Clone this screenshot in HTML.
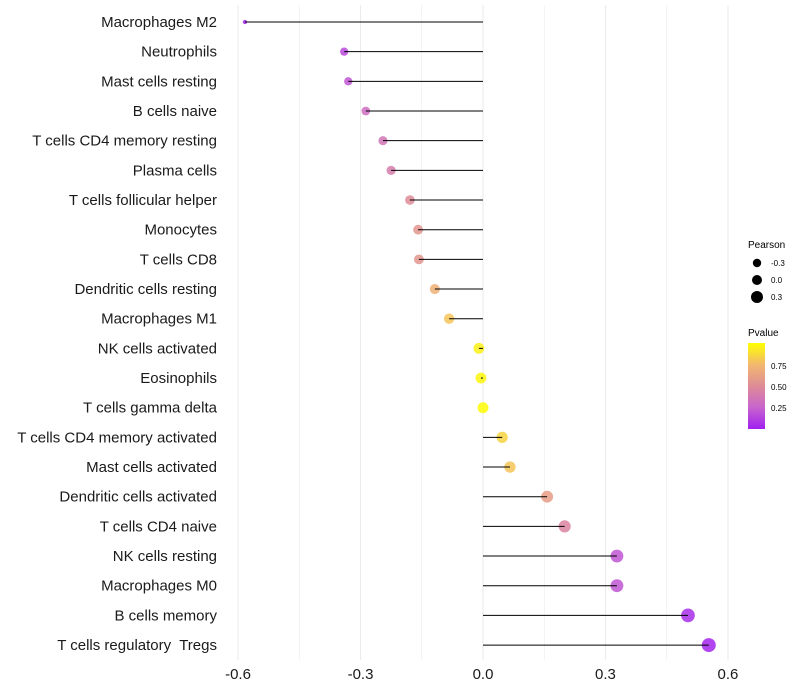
<!DOCTYPE html>
<html><head><meta charset="utf-8"><style>
body{margin:0;background:#fff;font-family:"Liberation Sans",sans-serif}
svg{display:block}
</style></head><body>
<svg id="chart" width="800" height="700"></svg>
<script>
const categories=["Macrophages M2","Neutrophils","Mast cells resting","B cells naive","T cells CD4 memory resting","Plasma cells","T cells follicular helper","Monocytes","T cells CD8","Dendritic cells resting","Macrophages M1","NK cells activated","Eosinophils","T cells gamma delta","T cells CD4 memory activated","Mast cells activated","Dendritic cells activated","T cells CD4 naive","NK cells resting","Macrophages M0","B cells memory","T cells regulatory  Tregs"];
const pearson=[-0.583,-0.34,-0.33,-0.287,-0.245,-0.225,-0.179,-0.159,-0.157,-0.118,-0.083,-0.01,-0.005,0.0,0.047,0.066,0.157,0.2,0.328,0.328,0.502,0.553];
const pvalues=[0.01,0.15,0.2,0.3,0.35,0.4,0.5,0.55,0.55,0.7,0.8,0.95,0.97,0.99,0.85,0.8,0.6,0.45,0.2,0.2,0.05,0.02];
const xTicks=[-0.6,-0.3,0.0,0.3,0.6];
const xTickLabels=["-0.6","-0.3","0.0","0.3","0.6"];
const NS="http://www.w3.org/2000/svg";
const svg=document.getElementById('chart');
const x=v=>483+v*408.3;
const y=i=>22+i*29.67;
const r=v=>1.5+5.5*Math.sqrt(Math.max(0,(v+0.6)/1.153));
const stops=[[0,[160,32,240]],[0.25,[200,100,205]],[0.5,[222,140,150]],[0.75,[242,184,110]],[1,[255,255,0]]];
function col(p){const t=Math.max(0,Math.min(1,p));let k=0;while(k<stops.length-2&&t>stops[k+1][0])k++;
const a=stops[k],b=stops[k+1],f=(t-a[0])/(b[0]-a[0]);
return `rgb(${a[1].map((c,j)=>Math.round(c+(b[1][j]-c)*f)).join(',')})`;}
function mk(t,a){const e=document.createElementNS(NS,t);for(const k in a)e.setAttribute(k,a[k]);svg.appendChild(e);return e;}
for(let v=-0.6;v<=0.601;v+=0.15){const g=mk('line',{x1:x(v),x2:x(v),y1:5,y2:660,stroke:'#ebebeb','stroke-width':Math.abs(Math.round(v/0.15))%2?0.6:1.1});

}
xTicks.forEach((v,i)=>{const t=mk('text',{x:x(v),y:679,'text-anchor':'middle','font-size':15,fill:'#1a1a1a'});t.textContent=xTickLabels[i];

});
categories.forEach((c,i)=>{
const d=mk('circle',{cx:x(pearson[i]),cy:y(i),r:r(pearson[i]),fill:col(pvalues[i]),'fill-opacity':0.85});


const l=mk('line',{x1:x(0),x2:x(pearson[i]),y1:y(i),y2:y(i),stroke:'#000','stroke-width':1});


const t=mk('text',{x:217,y:y(i)+5,'text-anchor':'end','font-size':15,fill:'#1a1a1a','xml:space':'preserve'});t.style.whiteSpace='pre';t.textContent=c;


});
let t=mk('text',{x:748,y:248,'font-size':10});t.textContent='Pearson';


[[-0.3,263,4.2],[0.0,280,5],[0.3,297,6]].forEach(a=>{const c=mk('circle',{cx:757,cy:a[1],r:a[2],fill:'#000'});


const s=mk('text',{x:771,y:a[1]+3,'font-size':8});s.textContent=a[0]===0?'0.0':String(a[0]);

});
t=mk('text',{x:748,y:336,'font-size':10});t.textContent='Pvalue';


const defs=mk('defs',{});
const lg=document.createElementNS(NS,'linearGradient');lg.setAttribute('id','pg');lg.setAttribute('x1',0);lg.setAttribute('x2',0);lg.setAttribute('y1',1);lg.setAttribute('y2',0);defs.appendChild(lg);
for(let k=0;k<=20;k++){const s=document.createElementNS(NS,'stop');s.setAttribute('offset',k/20);s.setAttribute('stop-color',col(k/20));lg.appendChild(s);}
const cb=mk('rect',{x:748,y:343,width:17,height:86,fill:'url(#pg)'});


[[0.25,408],[0.5,387],[0.75,366]].forEach(a=>{const s=mk('text',{x:771,y:a[1]+3,'font-size':8});s.textContent=a[0].toFixed(2);

});
</script>
</body></html>
